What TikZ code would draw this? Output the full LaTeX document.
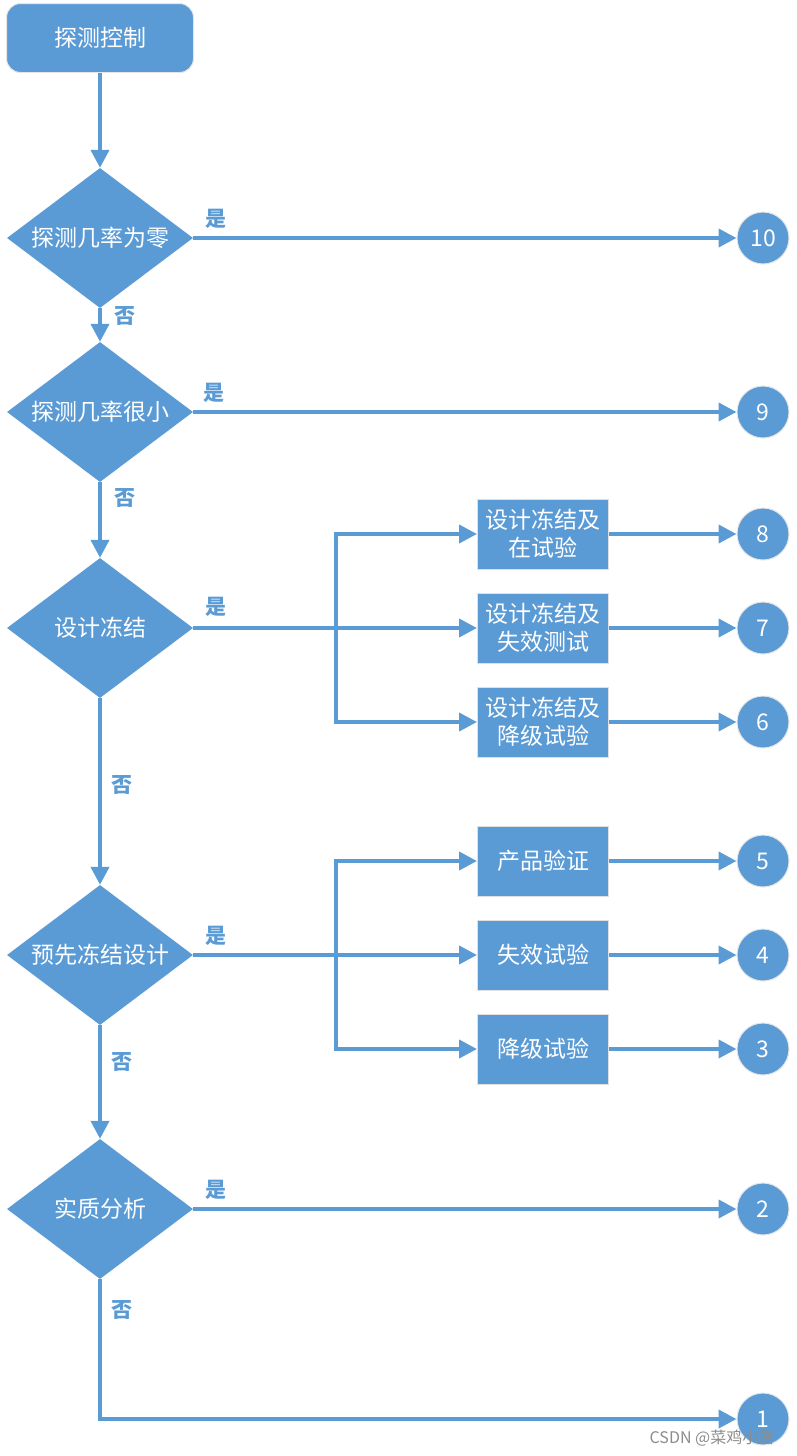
\documentclass[tikz,border=0pt]{standalone}
\usepackage{fontspec}
\setmainfont{Noto Sans CJK SC}
\usetikzlibrary{positioning, arrows.meta, shapes.geometric, calc}
\definecolor{flowblue}{HTML}{5B9BD5}

\begin{document}
\begin{tikzpicture}[
    x=1pt, y=-1pt,
    startbox/.style={rectangle, rounded corners=14pt, draw=black!10, line width=1pt, fill=flowblue, text=white, minimum width=187pt, minimum height=69pt, font=\fontsize{23}{27}\selectfont},
    decision/.style={diamond, aspect=1.33, inner sep=0pt, fill=flowblue, text=white, minimum width=186pt, minimum height=140pt, font=\fontsize{23}{27}\selectfont},
    stepbox/.style={rectangle, draw=black!12, line width=1pt, fill=flowblue, text=white, minimum width=131pt, minimum height=70pt, align=center, font=\fontsize{23}{28}\selectfont},
    endpt/.style={circle, draw=black!10, line width=1pt, fill=flowblue, text=white, minimum size=52pt, inner sep=0pt, font=\fontsize{23}{27}\selectfont},
    answer/.style={text=flowblue, font=\fontsize{21}{25}\selectfont\bfseries},
    arrow/.style={-{Triangle[length=18pt, width=18pt]}, draw=flowblue, line width=4pt},
    link/.style={draw=flowblue, line width=4pt}
]

\useasboundingbox (0,0) rectangle (796,1456);

% Start and decisions
\node[startbox] (start) at (100,38) {探测控制};
\node[decision] (d1) at (100,238) {探测几率为零};
\node[decision] (d2) at (100,412) {探测几率很小};
\node[decision] (d3) at (100,628) {设计冻结};
\node[decision] (d4) at (100,955) {预先冻结设计};
\node[decision] (d5) at (100,1209) {实质分析};

% Test boxes
\node[stepbox] (b8) at (543,534) {设计冻结及\\在试验};
\node[stepbox] (b7) at (543,628) {设计冻结及\\失效测试};
\node[stepbox] (b6) at (543,722) {设计冻结及\\降级试验};
\node[stepbox] (b5) at (543,861) {产品验证};
\node[stepbox] (b4) at (543,955) {失效试验};
\node[stepbox] (b3) at (543,1049) {降级试验};

% End points
\node[endpt] (e10) at (763,238) {10};
\node[endpt] (e9) at (763,412) {9};
\node[endpt] (e8) at (763,534) {8};
\node[endpt] (e7) at (763,628) {7};
\node[endpt] (e6) at (763,722) {6};
\node[endpt] (e5) at (763,861) {5};
\node[endpt] (e4) at (763,955) {4};
\node[endpt] (e3) at (763,1049) {3};
\node[endpt] (e2) at (763,1209) {2};
\node[endpt] (e1) at (763,1419) {1};

% Branch points
\coordinate (j3) at (336,628);
\coordinate (j4) at (336,955);

% Main flow
\draw[arrow] (start) -- (d1);
\draw[arrow] (d1) -- (d2);
\draw[arrow] (d2) -- (d3);
\draw[arrow] (d3) -- (d4);
\draw[arrow] (d4) -- (d5);
\draw[arrow] (d5) |- (e1);

% Yes branches
\draw[arrow] (d1) -- (e10);
\draw[arrow] (d2) -- (e9);
\draw[arrow] (d3) -- (b7);
\draw[arrow] (j3) |- (b8);
\draw[arrow] (j3) |- (b6);
\draw[arrow] (d4) -- (b4);
\draw[arrow] (j4) |- (b5);
\draw[arrow] (j4) |- (b3);
\draw[arrow] (d5) -- (e2);

% Boxes to end points
\draw[arrow] (b8) -- (e8);
\draw[arrow] (b7) -- (e7);
\draw[arrow] (b6) -- (e6);
\draw[arrow] (b5) -- (e5);
\draw[arrow] (b4) -- (e4);
\draw[arrow] (b3) -- (e3);

% Yes / no labels
\node[answer] (y1) at (216,219) {是};
\node[answer] (y2) at (214,393) {是};
\node[answer] (y3) at (216,607) {是};
\node[answer] (y4) at (216,936) {是};
\node[answer] (y5) at (216,1190) {是};
\node[answer] (n1) at (125,316) {否};
\node[answer] (n2) at (125,498) {否};
\node[answer] (n3) at (122,785) {否};
\node[answer] (n4) at (122,1062) {否};
\node[answer] (n5) at (122,1310) {否};

% Watermark
\node[text=black!45, font=\fontsize{16}{19}\selectfont] (mark) at (712,1438) {CSDN @菜鸡小詹};

\end{tikzpicture}
\end{document}
